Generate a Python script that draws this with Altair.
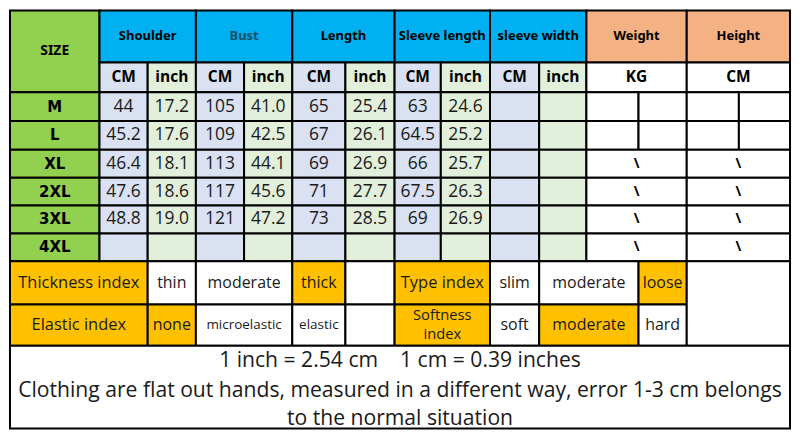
import altair as alt
import pandas as pd

# ---------------- data ----------------
sizes = ["M", "L", "XL", "2XL", "3XL", "4XL"]
measures = ["Shoulder", "Bust", "Length", "Sleeve length", "sleeve width"]
shoulder_cm = [44, 45.2, 46.4, 47.6, 48.8, None]
shoulder_in = [17.2, 17.6, 18.1, 18.6, 19.0, None]
bust_cm = [105, 109, 113, 117, 121, None]
bust_in = [41.0, 42.5, 44.1, 45.6, 47.2, None]
length_cm = [65, 67, 69, 71, 73, None]
length_in = [25.4, 26.1, 26.9, 27.7, 28.5, None]
sleeve_cm = [63, 64.5, 66, 67.5, 69, None]
sleeve_in = [24.6, 25.2, 25.7, 26.3, 26.9, None]
sleevew_cm = [None] * 6
sleevew_in = [None] * 6
extra_headers = ["Weight", "Height"]
extra_units = ["KG", "CM"]
unit_labels = ["CM", "inch"]

thickness_opts = ["thin", "moderate", "thick"]
thickness_sel = "thick"
type_opts = ["slim", "moderate", "loose"]
type_sel = "loose"
elastic_opts = ["none", "microelastic", "elastic"]
elastic_sel = "none"
softness_opts = ["soft", "moderate", "hard"]
softness_sel = "moderate"

notes = [
    "1 inch = 2.54 cm" + "\u00a0" * 4 + "1 cm = 0.39 inches",
    "Clothing are flat out hands, measured in a different way, error 1-3 cm belongs",
    "to the normal situation",
]

# ---------------- layout (grid of the table) ----------------
XE = [4, 95, 144, 193, 242, 291, 345, 395, 442, 492, 542, 590, 643, 692, 745, 797]
YE = [2, 56, 87, 117, 147, 176, 205, 234, 263, 308, 351, 437]

GREEN = "#92D050"
BLUE = "#00B0F0"
LBLUE = "#D9E1F2"
LGREEN = "#E2EFDA"
ORANGE = "#F4B183"
GOLD = "#FFC000"
WHITE = "#FFFFFF"
TEAL = "#1D4F66"
INK = "#1a1a1a"

cells = []
texts = []


def add_text(cx, cy, text, style, fs, color):
    texts.append(dict(cx=cx, cy=cy, t=text, style=style, fs=fs, tc=color))


def cell(c0, c1, r0, r1, fill, text="", style="num", fs=16.5, color=INK, step=19):
    cells.append(dict(x=XE[c0], x2=XE[c1], y=YE[r0], y2=YE[r1], fill=fill))
    if text != "":
        lines = text.split("\n")
        cx = (XE[c0] + XE[c1]) / 2
        cy = (YE[r0] + YE[r1]) / 2
        for j, ln in enumerate(lines):
            add_text(cx, cy + (j - (len(lines) - 1) / 2) * step, ln, style, fs, color)


def fmt_cm(v):
    return "" if v is None else f"{v:g}"


def fmt_in(v):
    return "" if v is None else f"{v:.1f}"


# header
cell(0, 1, 0, 2, GREEN, "SIZE", "hdr", 14, "black")
for k, m in enumerate(measures):
    c = 1 + 2 * k
    cell(c, c + 2, 0, 1, BLUE, m, "hdr", 13, TEAL if m == "Bust" else "black")
    cell(c, c + 1, 1, 2, LBLUE, unit_labels[0], "sub", 15.5, "black")
    cell(c + 1, c + 2, 1, 2, LGREEN, unit_labels[1], "sub", 15.5, "black")
for k, (h, u) in enumerate(zip(extra_headers, extra_units)):
    c = 11 + 2 * k
    cell(c, c + 2, 0, 1, ORANGE, h, "hdr", 13, "black")
    cell(c, c + 2, 1, 2, WHITE, u, "sub", 15.5, "black")

series = [(shoulder_cm, shoulder_in), (bust_cm, bust_in), (length_cm, length_in),
          (sleeve_cm, sleeve_in), (sleevew_cm, sleevew_in)]
for i, s in enumerate(sizes):
    r = 2 + i
    cell(0, 1, r, r + 1, GREEN, s, "size", 15, "black")
    for k, (cm, inch) in enumerate(series):
        c = 1 + 2 * k
        cell(c, c + 1, r, r + 1, LBLUE, fmt_cm(cm[i]), "num", 17.5)
        cell(c + 1, c + 2, r, r + 1, LGREEN, fmt_in(inch[i]), "num", 17.5)
    if i < 2:
        for c in range(11, 15):
            cell(c, c + 1, r, r + 1, WHITE)
    else:
        cell(11, 13, r, r + 1, WHITE, "\\", "sub", 14, "black")
        cell(13, 15, r, r + 1, WHITE, "\\", "sub", 14, "black")


def index_row(r, label, opts, sel, spans, c_label, sizes_fs, label_fs=16.5):
    cell(c_label[0], c_label[1], r, r + 1, GOLD, label, "num", label_fs, step=19.5)
    for o, (c0, c1), f in zip(opts, spans, sizes_fs):
        cell(c0, c1, r, r + 1, GOLD if o == sel else WHITE, o, "num", f)


index_row(8, "Thickness index", thickness_opts, thickness_sel,
          [(2, 3), (3, 5), (5, 6)], (0, 2), [16, 16, 16])
cell(6, 7, 8, 9, WHITE)
index_row(8, "Type index", type_opts, type_sel,
          [(9, 10), (10, 12), (12, 13)], (7, 9), [16, 16, 16])
index_row(9, "Elastic index", elastic_opts, elastic_sel,
          [(2, 3), (3, 5), (5, 6)], (0, 2), [16, 13.5, 13.5])
cell(6, 7, 9, 10, WHITE)
index_row(9, "Softness\nindex", softness_opts, softness_sel,
          [(9, 10), (10, 12), (12, 13)], (7, 9), [16, 16, 16], label_fs=14.8)
cell(13, 15, 8, 10, WHITE)

# notes cell
cells.append(dict(x=XE[0], x2=XE[-1], y=YE[10], y2=YE[11], fill=WHITE))
note_y = [367, 398, 427]
for t, yy in zip(notes, note_y):
    add_text((XE[0] + XE[-1]) / 2, yy, t, "num", 21.2, INK)

cells_df = pd.DataFrame(cells)
texts_df = pd.DataFrame(texts)

W, H = 784, 421
xs = alt.Scale(domain=[3, 798], nice=False, zero=False)
ys = alt.Scale(domain=[1, 438], nice=False, zero=False, reverse=True)

rects = alt.Chart(cells_df).mark_rect(stroke="black", strokeWidth=2).encode(
    x=alt.X("x:Q", scale=xs, axis=None),
    x2="x2:Q",
    y=alt.Y("y:Q", scale=ys, axis=None),
    y2="y2:Q",
    color=alt.Color("fill:N", scale=None),
)


def text_layer(style, font, weight):
    return alt.Chart(texts_df).transform_filter(
        alt.datum.style == style
    ).mark_text(font=font, fontWeight=weight, align="center", baseline="middle").encode(
        x=alt.X("cx:Q", scale=xs, axis=None),
        y=alt.Y("cy:Q", scale=ys, axis=None),
        text="t:N",
        size=alt.Size("fs:Q", scale=None),
        color=alt.Color("tc:N", scale=None),
    )


chart = alt.layer(
    rects,
    text_layer("hdr", "Noto Sans", "bold"),
    text_layer("size", "DejaVu Sans", "bold"),
    text_layer("sub", "Open Sans", "bold"),
    text_layer("num", "Open Sans", "normal"),
).properties(width=W, height=H, padding=0).configure_view(stroke=None)

chart.save("out.html", embed_options={"renderer": "svg", "actions": False})
